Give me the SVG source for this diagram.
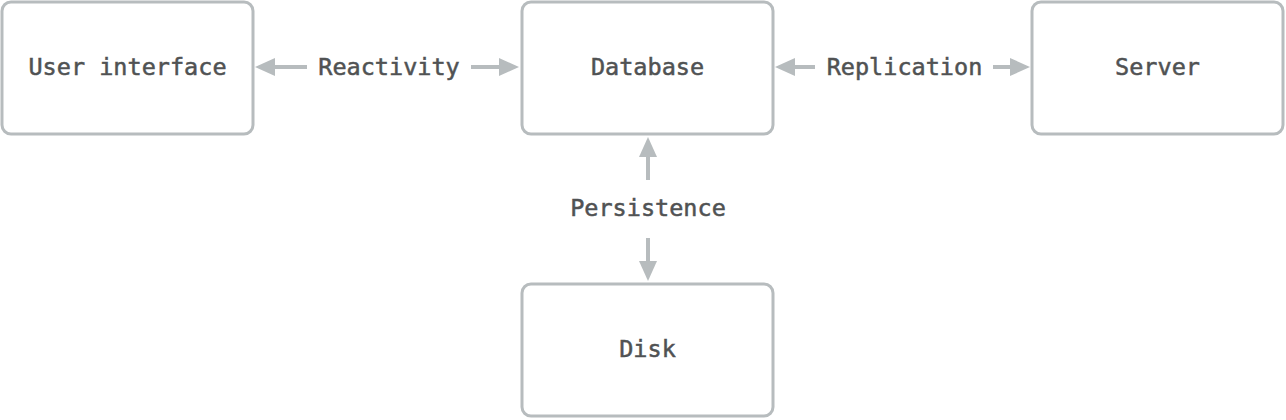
<svg xmlns="http://www.w3.org/2000/svg" width="1286" height="420" viewBox="0 0 1286 420">
<style>
.box{fill:#fff;stroke:#b7bcbe;stroke-width:3}
.t{font-family:"DejaVu Sans Mono","Liberation Mono",monospace;font-size:23.5px;fill:#505253;stroke:#505253;stroke-width:0.5;text-anchor:middle;dominant-baseline:central}
.c{stroke:#b7bcbe;stroke-width:4;fill:none;marker-end:url(#ah)}
</style>
<defs>
<marker id="ah" viewBox="0 0 20 18" refX="0" refY="9" markerWidth="20" markerHeight="18" markerUnits="userSpaceOnUse" orient="auto">
<path d="M0,0 L20,9 L0,18 z" fill="#b7bcbe"/>
</marker>
</defs>
<rect width="1286" height="420" fill="#fff"/>
<g id="connectors">
<line class="c" x1="307" y1="67" x2="275" y2="67"/>
<line class="c" x1="471" y1="67" x2="499" y2="67"/>
<line class="c" x1="815" y1="67" x2="795" y2="67"/>
<line class="c" x1="993" y1="67" x2="1010" y2="67"/>
<line class="c" x1="648" y1="180" x2="648" y2="157"/>
<line class="c" x1="648" y1="238" x2="648" y2="261"/>
<text class="t" x="389" y="67">Reactivity</text>
<text class="t" x="904.5" y="67">Replication</text>
<text class="t" x="648" y="208">Persistence</text>
</g>
<g id="ui"><rect class="box" x="2" y="2" width="251" height="132" rx="9"/><text class="t" x="127.5" y="67">User interface</text></g>
<g id="database"><rect class="box" x="522" y="2" width="251" height="132" rx="9"/><text class="t" x="647.5" y="67">Database</text></g>
<g id="server"><rect class="box" x="1032" y="2" width="251" height="132" rx="9"/><text class="t" x="1157.5" y="67">Server</text></g>
<g id="disk"><rect class="box" x="522" y="284" width="251" height="132" rx="9"/><text class="t" x="647.5" y="349">Disk</text></g>
</svg>
